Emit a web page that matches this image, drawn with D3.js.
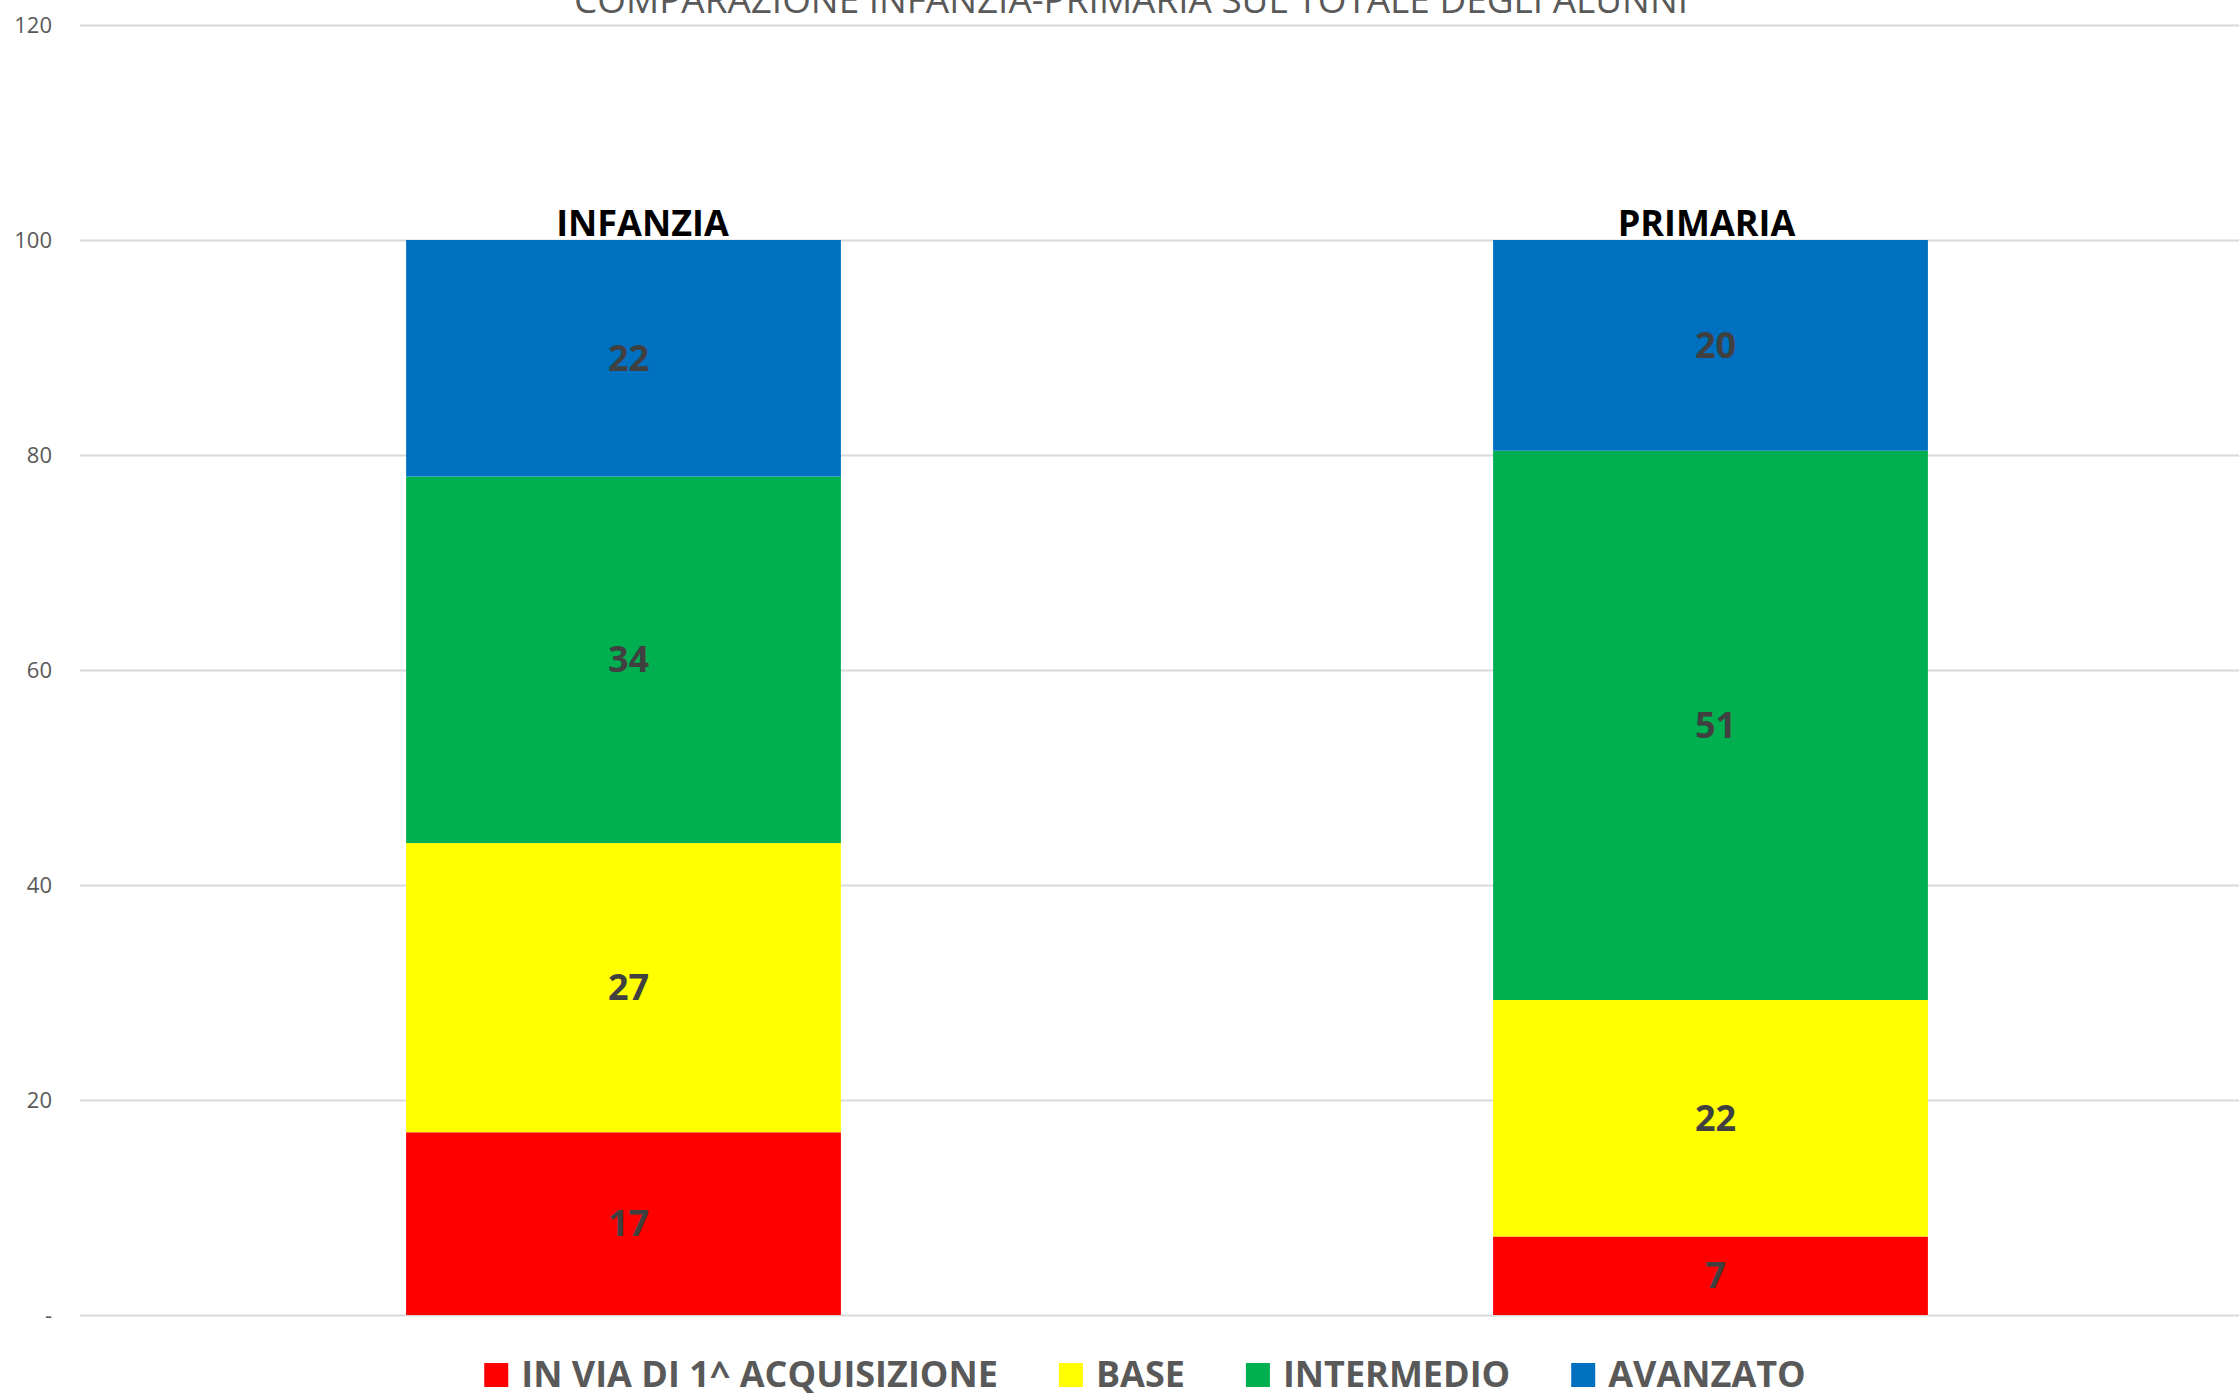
<!DOCTYPE html>
<html>
<head>
<meta charset="utf-8">
<script src="https://cdn.jsdelivr.net/npm/d3@7"></script>
<style>
  html, body { margin: 0; padding: 0; background: #fff; overflow: hidden; }
  text { font-family: "Open Sans", "DejaVu Sans", sans-serif; }
</style>
</head>
<body>
<div id="chart"></div>
<script>
// data
const title = "COMPARAZIONE INFANZIA-PRIMARIA SUL TOTALE DEGLI ALUNNI";
const categories = ["INFANZIA", "PRIMARIA"];
const seriesNames = ["IN VIA DI 1^ ACQUISIZIONE", "BASE", "INTERMEDIO", "AVANZATO"];
const inVia = [17.0, 7.3];
const base = [26.9, 22.0];
const intermedio = [34.1, 51.1];
const avanzato = [22.0, 19.6];
const yTicks = [0, 20, 40, 60, 80, 100, 120];
const colors = ["#ff0000", "#ffff00", "#00b050", "#0070c0"];

const W = 2239, H = 1397;
const margin = { left: 80, top: 25, bottom: 1315 };
const plotRight = 2254; // plot area runs a bit past the picture edge

const svg = d3.select("#chart").append("svg")
  .attr("width", W)
  .attr("height", H);

// table for the stack
const keys = ["inVia", "base", "intermedio", "avanzato"];
const rows = categories.map((c, i) => ({
  cat: c, inVia: inVia[i], base: base[i], intermedio: intermedio[i], avanzato: avanzato[i]
}));
const stacked = d3.stack().keys(keys)(rows);

const x = d3.scaleBand()
  .domain(categories)
  .range([margin.left, plotRight])
  .paddingInner(0.6)
  .paddingOuter(0.3);

const y = d3.scaleLinear()
  .domain([0, 120])
  .range([margin.bottom, margin.top]);

// gridlines + tick labels
const yAxis = svg.append("g")
  .attr("transform", `translate(${margin.left},0)`)
  .call(d3.axisLeft(y)
    .tickValues(yTicks)
    .tickSize(-(W - margin.left))
    .tickPadding(28)
    .tickFormat(d => d === 0 ? "-" : d));
yAxis.select(".domain").remove();
yAxis.selectAll(".tick line").attr("stroke", "#d9d9d9").attr("stroke-width", 2);
yAxis.selectAll(".tick text")
  .attr("fill", "#595959")
  .style("font-size", "22px");

// bars
const layer = svg.append("g").selectAll("g")
  .data(stacked)
  .enter().append("g")
  .attr("fill", (d, i) => colors[i]);

layer.selectAll("rect")
  .data(d => d)
  .enter().append("rect")
  .attr("x", d => x(d.data.cat))
  .attr("y", d => y(d[1]))
  .attr("width", x.bandwidth())
  .attr("height", d => y(d[0]) - y(d[1]));

// value labels
layer.selectAll("text")
  .data(d => d)
  .enter().append("text")
  .attr("x", d => x(d.data.cat) + x.bandwidth() / 2 + 5)
  .attr("y", d => (y(d[0]) + y(d[1])) / 2)
  .attr("dy", "0.35em")
  .attr("text-anchor", "middle")
  .attr("fill", "#404040")
  .style("font-size", "36px")
  .style("font-weight", "bold")
  .text(d => Math.round(d[1] - d[0]));

// category names on top of bars
const catDx = [19, -4];
svg.append("g").selectAll("text")
  .data(categories)
  .enter().append("text")
  .attr("x", (d, i) => x(d) + x.bandwidth() / 2 + catDx[i])
  .attr("y", y(100) - 4)
  .attr("text-anchor", "middle")
  .attr("fill", "#000")
  .style("font-size", "36px")
  .style("font-weight", "bold")
  .text(d => d);

// title, cut off at the top like the original
svg.append("text")
  .attr("x", 1131)
  .attr("y", 13)
  .attr("text-anchor", "middle")
  .attr("fill", "#595959")
  .attr("textLength", 1114)
  .attr("lengthAdjust", "spacingAndGlyphs")
  .style("font-size", "36px")
  .text(title);

// legend
const legend = svg.append("g");
const items = legend.selectAll("g")
  .data(seriesNames)
  .enter().append("g");
items.append("rect")
  .attr("width", 24)
  .attr("height", 24)
  .attr("y", 1363)
  .attr("fill", (d, i) => colors[i]);
items.append("text")
  .attr("x", 37)
  .attr("y", 1387)
  .attr("fill", "#595959")
  .style("font-size", "36px")
  .style("font-weight", "bold")
  .text(d => d);

let offset = 0;
const widths = [];
items.each(function() {
  const w = d3.select(this).select("text").node().getComputedTextLength() + 37;
  widths.push(w);
});
const gap = 61;
const total = d3.sum(widths) + gap * (widths.length - 1);
offset = 1145 - total / 2;
items.attr("transform", (d, i) => {
  const t = `translate(${offset},0)`;
  offset += widths[i] + gap;
  return t;
});
</script>
</body>
</html>
